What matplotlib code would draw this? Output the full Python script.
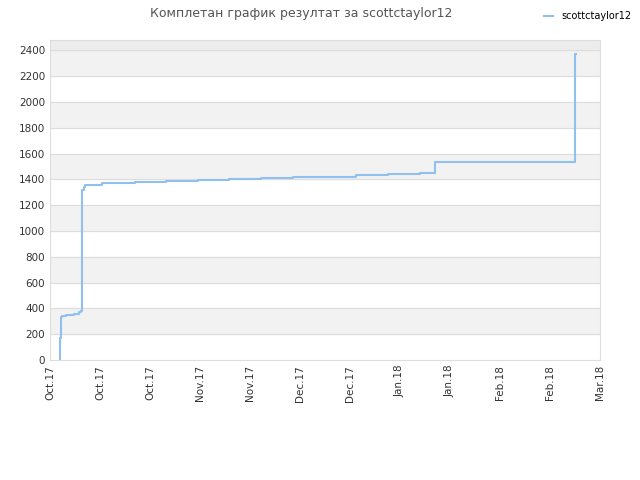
import numpy as np
import matplotlib
matplotlib.use("Agg")
import matplotlib.pyplot as plt

# days since Oct 1 2017 (x axis spans 151 days to Mar 1)
days = [2.8, 2.8, 3.0, 3.1, 3.4, 4.5, 6.5, 8.0, 8.6, 8.7, 8.9, 9.4, 9.7,
        14.4, 23.2, 31.8, 40.6, 49.2, 57.9, 66.7, 75.3, 84.0, 92.8, 101.7,
        105.7, 144.0, 144.1, 144.3]
score = [0, 170, 180, 330, 340, 350, 360, 370, 380, 1200, 1320, 1340, 1360,
         1370, 1380, 1390, 1395, 1400, 1410, 1415, 1420, 1430, 1440, 1450,
         1535, 2130, 2370, 2370]
tick_labels = ["Oct.17", "Oct.17", "Oct.17", "Nov.17", "Nov.17", "Dec.17", "Dec.17",
               "Jan.18", "Jan.18", "Feb.18", "Feb.18", "Mar.18"]
player = "scottctaylor12"

fig = plt.figure(figsize=(6.4, 4.8), dpi=100)
ax = fig.add_axes([50 / 640, 120 / 480, 550 / 640, 320 / 480])
ymax = 2480
ax.set_ylim(0, ymax)
ax.set_xlim(0, 151)
for lo in range(200, 2400, 400):
    ax.axhspan(lo, lo + 200, color="#f2f2f2", zorder=0)
ax.axhspan(2400, ymax, color="#ececec", zorder=0)
for y in range(200, 2401, 200):
    ax.axhline(y, color="#dddddd", lw=0.8, zorder=1)

ax.step(days, score, where="post", color="#90c0f0", lw=1.5, label=player, zorder=3)

ax.set_yticks(range(0, 2401, 200))
ax.set_xticks(np.linspace(0, 151, 12))
ax.set_xticklabels(tick_labels, rotation=90)
ax.tick_params(labelsize=7.5, colors="#333333", length=0)
for s in ax.spines.values():
    s.set_color("#dddddd")

fig.text(0.47, 0.985, "Комплетан график резултат за " + player, ha="center", va="top",
         fontsize=9, color="#555555")
fig.legend(loc="upper right", bbox_to_anchor=(1.0, 0.995), frameon=False, fontsize=7,
           handlelength=1.0)
fig.savefig("out.png")
